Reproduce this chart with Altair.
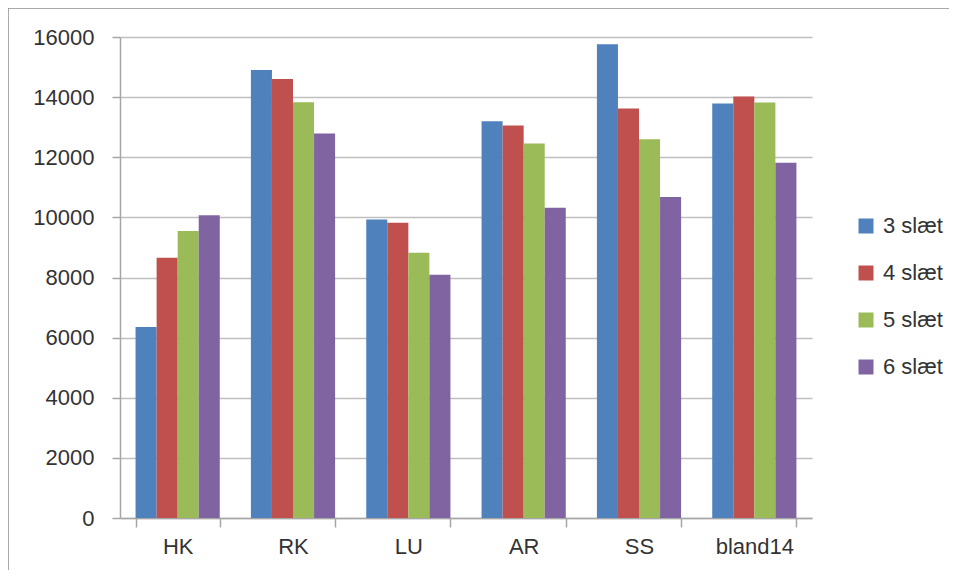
import altair as alt
import pandas as pd

categories = ["HK", "RK", "LU", "AR", "SS", "bland14"]
series = ["3 slæt", "4 slæt", "5 slæt", "6 slæt"]
values_3 = [6350, 14900, 9930, 13200, 15760, 13790]
values_4 = [8660, 14600, 9820, 13060, 13620, 14020]
values_5 = [9550, 13830, 8820, 12460, 12600, 13820]
values_6 = [10070, 12790, 8090, 10320, 10680, 11820]
colors = ["#4F81BD", "#C0504D", "#9BBB59", "#8064A2"]
y_ticks = [0, 2000, 4000, 6000, 8000, 10000, 12000, 14000, 16000]

rows = []
for s, vals in zip(series, [values_3, values_4, values_5, values_6]):
    for c, v in zip(categories, vals):
        rows.append({"cat": c, "serie": s, "value": v})
df = pd.DataFrame(rows)

FONT = "Liberation Sans"
TXT = "#333333"

bars = alt.Chart(df).mark_bar().encode(
    x=alt.X("cat:N", sort=categories, title=None,
            scale=alt.Scale(paddingInner=0.27, paddingOuter=0.135),
            axis=alt.Axis(labelAngle=0, tickBand="extent", tickSize=9,
                          labelPadding=9, domainColor="#A6A6A6", tickColor="#A6A6A6",
                          domainWidth=1.5, tickWidth=1.5,
                          labelFont=FONT, labelFontSize=22, labelColor=TXT, grid=False)),
    xOffset=alt.XOffset("serie:N", sort=series),
    y=alt.Y("value:Q", title=None,
            scale=alt.Scale(domain=[0, 16000], nice=False),
            axis=alt.Axis(values=y_ticks, format="d", tickSize=8, labelPadding=18,
                          domainColor="#A6A6A6", tickColor="#A6A6A6",
                          domainWidth=1.5, tickWidth=1.5,
                          gridColor="#BFBFBF", gridWidth=1.5,
                          labelFont=FONT, labelFontSize=22, labelColor=TXT)),
    color=alt.Color("serie:N", sort=series, title=None,
                    scale=alt.Scale(domain=series, range=colors),
                    legend=alt.Legend(orient="none", legendX=735, legendY=178,
                                      symbolType="square", symbolSize=225,
                                      symbolStrokeWidth=0, padding=0,
                                      rowPadding=25, labelFont=FONT,
                                      labelFontSize=22, labelColor=TXT,
                                      labelOffset=6)),
)

frame_left = alt.Chart(alt.Data(values=[{}])).mark_rule(
    color="#8C8C8C", strokeWidth=1.5
).encode(x=alt.value(-112), y=alt.value(-29), y2=alt.value(700))

frame_top = alt.Chart(alt.Data(values=[{}])).mark_rule(
    color="#8C8C8C", strokeWidth=1.5
).encode(x=alt.value(-112), x2=alt.value(1000), y=alt.value(-29))

chart = alt.layer(frame_left, frame_top, bars).properties(
    width=692, height=481,
    background="white",
    autosize=alt.AutoSizeParams(type="none"),
    padding={"left": 112, "top": 29, "right": 137, "bottom": 52},
).configure_view(strokeWidth=0, stroke="transparent")

chart.save("out.html", embed_options={"renderer": "svg", "actions": False})
